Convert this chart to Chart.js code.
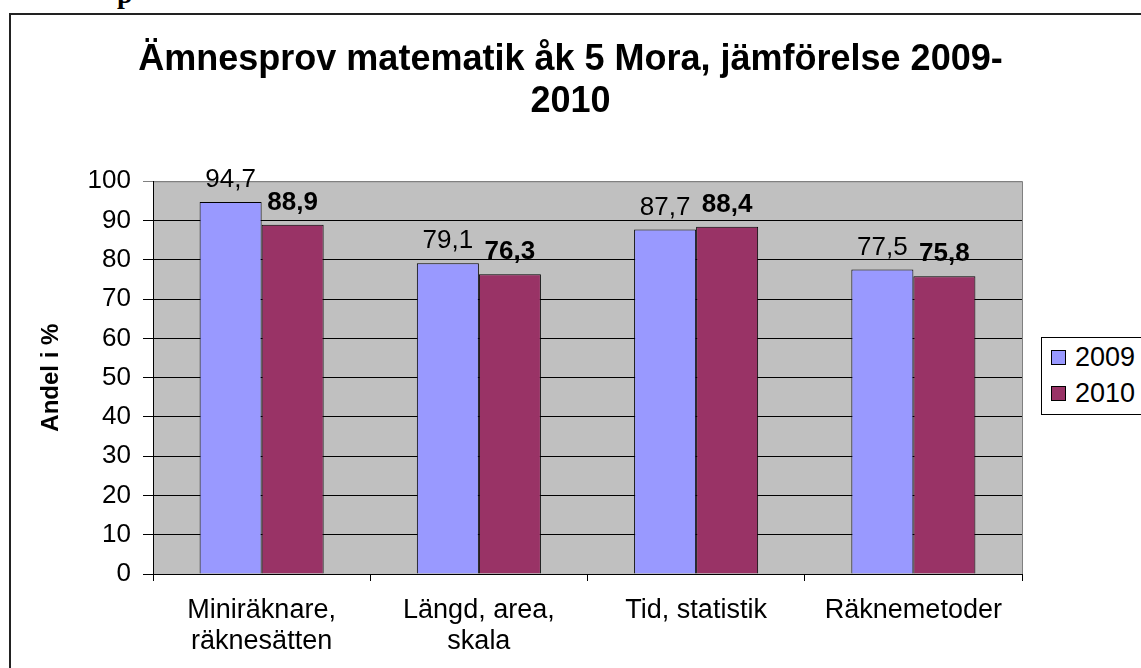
<!DOCTYPE html>
<html>
<head>
<meta charset="utf-8">
<script src="https://cdn.jsdelivr.net/npm/chart.js@4.4.0/dist/chart.umd.min.js"></script>
<style>
  html, body { margin: 0; padding: 0; background: #fff; overflow: hidden; }
  #wrap { position: relative; width: 1141px; height: 668px; }
  #frame { position: absolute; left: 9px; top: 13px; width: 1200px; height: 700px;
           border-left: 2px solid #222; border-top: 2px solid #222; }
  #crop { position: absolute; left: 117px; top: -22px; font: bold 28px "Liberation Serif", serif; color: #000; }
  canvas { position: absolute; left: 0; top: 0; }
  #legend { position: absolute; left: 1041px; top: 337px; width: 110px; height: 76px;
            border: 1px solid #000; background: #fff; font: 27px "Liberation Sans", Arial, sans-serif; }
  #legend div { height: 36px; line-height: 38px; padding-left: 9px; white-space: nowrap; }
  #legend span { display: inline-block; width: 13px; height: 13px; border: 1px solid #000;
                 margin-right: 9px; vertical-align: 1px; }
</style>
</head>
<body>
<div id="wrap">
  <div id="frame"></div>
  <div id="crop">p</div>
  <canvas id="chart" width="1141" height="668"></canvas>
  <div id="legend"></div>
</div>
<script>
const categories = [['Miniräknare,', 'räknesätten'], ['Längd, area,', 'skala'], ['Tid, statistik'], ['Räknemetoder']]
const seriesNames = ['2009', '2010']
const values2009 = [94.7, 79.1, 87.7, 77.5]
const values2010 = [88.9, 76.3, 88.4, 75.8]
const colors = ['#9999FF', '#993366']
const yMin = 0
const yMax = 100
const yStep = 10

const FONT = '"Liberation Sans", Arial, sans-serif'

// grey plot area with a thin grey frame, like the Excel original
const plotBackground = {
  id: 'plotBackground',
  beforeDraw(chart) {
    const { ctx, chartArea: a } = chart
    ctx.save()
    ctx.fillStyle = '#C0C0C0'
    ctx.fillRect(a.left, a.top, a.right - a.left, a.bottom - a.top)
    ctx.strokeStyle = '#808080'
    ctx.lineWidth = 1
    ctx.strokeRect(a.left + 0.5, a.top + 0.5, a.right - a.left, a.bottom - a.top)
    ctx.restore()
  }
}

// value labels above each bar, 2010 in bold
const barLabels = {
  id: 'barLabels',
  afterDatasetsDraw(chart) {
    const { ctx } = chart
    ctx.save()
    ctx.fillStyle = '#000'
    ctx.textAlign = 'center'
    ctx.textBaseline = 'alphabetic'
    chart.data.datasets.forEach((ds, i) => {
      ctx.font = (i === 1 ? 'bold ' : '') + '26px ' + FONT
      chart.getDatasetMeta(i).data.forEach((bar, j) => {
        ctx.fillText(String(ds.data[j]).replace('.', ','), bar.x, bar.y - 15)
      })
    })
    ctx.restore()
  }
}

const ctx = document.getElementById('chart').getContext('2d')
const chart = new Chart(ctx, {
  type: 'bar',
  data: {
    labels: categories,
    datasets: [
      { label: seriesNames[0], data: values2009, backgroundColor: colors[0], borderColor: '#000', borderWidth: 1 },
      { label: seriesNames[1], data: values2010, backgroundColor: colors[1], borderColor: '#000', borderWidth: 1 }
    ]
  },
  options: {
    responsive: false,
    animation: false,
    layout: { padding: 0 },
    datasets: { bar: { categoryPercentage: 0.571, barPercentage: 1 } },
    scales: {
      x: {
        grid: { offset: true, drawOnChartArea: false, color: '#000', tickLength: 7 },
        border: { color: '#000' },
        ticks: { color: '#000', font: { family: FONT, size: 27, lineHeight: 1.15 }, padding: 14, maxRotation: 0 },
        afterFit(scale) { scale.height = 94 }
      },
      y: {
        min: yMin,
        max: yMax,
        ticks: { stepSize: yStep, color: '#000', font: { family: FONT, size: 26 }, padding: 12 },
        grid: { color: ctx => ctx.tick && ctx.tick.value === yMax ? '#808080' : '#000', tickLength: 10 },
        border: { color: '#000' },
        title: { display: true, text: 'Andel i %', color: '#000',
                 font: { family: FONT, size: 24, weight: 'bold', lineHeight: 1.2 }, padding: { top: 37, bottom: 0 } },
        afterFit(scale) { scale.width = 153 }
      },
      // empty right axis that keeps room for the legend
      yRight: {
        position: 'right',
        grid: { display: false },
        border: { display: false },
        ticks: { display: false },
        afterFit(scale) { scale.width = 119 }
      }
    },
    plugins: {
      legend: { display: false },
      tooltip: { enabled: false },
      title: {
        display: true,
        text: ['Ämnesprov matematik åk 5 Mora, jämförelse 2009-', '2010'],
        color: '#000',
        font: { family: FONT, size: 36, weight: 'bold', lineHeight: 1.17 },
        padding: { top: 39, bottom: 58 }
      }
    }
  },
  plugins: [plotBackground, barLabels]
})

const legend = document.getElementById('legend')
chart.data.datasets.forEach(ds => {
  const row = document.createElement('div')
  row.innerHTML = '<span style="background:' + ds.backgroundColor + '"></span>' + ds.label
  legend.appendChild(row)
})
</script>
</body>
</html>
